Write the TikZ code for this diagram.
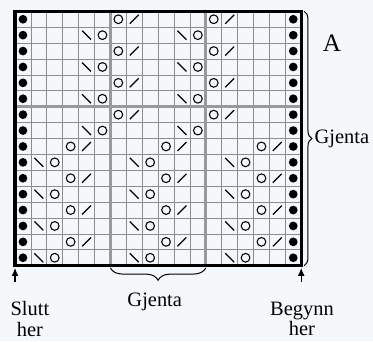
\documentclass[tikz,border=0pt]{standalone}
\usepackage{fontspec}
\setmainfont{Liberation Serif}
\usetikzlibrary{decorations.pathreplacing,positioning,arrows.meta}
\definecolor{papir}{RGB}{245,248,251}

\begin{document}
\begin{tikzpicture}[
  x=0.5cm, y=-0.5cm,
  every node/.style={inner sep=0pt, font=\fontsize{18.3}{18}\selectfont},
  pil/.style={-{Latex[length=7pt,width=6pt]}, line width=1pt},
  rute/.style={draw=black!45, line width=0.7pt},
  rapport/.style={draw=black!40, line width=2.4pt},
  ramme/.style={draw=black, line width=2.8pt},
  kant/.style={circle, fill=black, minimum size=7.8pt},
  kast/.style={circle, draw=black, line width=0.95pt, minimum size=7.8pt},
  strek/.style={draw=black, line width=1.1pt},
  klamme/.style={draw=black, line width=0.9pt, decorate},
  ]
  \fill[papir] (-0.943,-0.711) rectangle (22.516,20.736);
  \useasboundingbox (-0.943,-0.711) rectangle (22.516,20.736);
  % rutenett
  \foreach \i in {1,...,17} \draw[rute] (\i,0) -- (\i,16);
  \foreach \j in {1,...,15} \draw[rute] (0,\j) -- (18,\j);
  \draw[rapport] (6,0) -- (6,16) (12,0) -- (12,16) (0,6) -- (18,6);
  \draw[ramme] (0,0) rectangle (18,16);
  % kantmasker
  \foreach \r in {1,...,16} {
    \node[kant] (v\r) at (0.5,\r-0.5) {};
    \node[kant] (h\r) at (17.5,\r-0.5) {};
  }
  % oevre del
  \foreach \r in {1,3,5,7} \foreach \c in {7,13} {
    \node[kast] (k\r-\c) at (\c-0.5,\r-0.5) {};
    \draw[strek] (\c+0.22,\r-0.22) -- ++(0.56,-0.56);
  }
  \foreach \r in {2,4,6,8} \foreach \c in {6,12} {
    \draw[strek] (\c-1.78,\r-0.78) -- ++(0.56,0.56);
    \node[kast] (k\r-\c) at (\c-0.5,\r-0.5) {};
  }
  % nedre del
  \foreach \r in {9,11,13,15} \foreach \c in {4,10,16} {
    \node[kast] (k\r-\c) at (\c-0.5,\r-0.5) {};
    \draw[strek] (\c+0.22,\r-0.22) -- ++(0.56,-0.56);
  }
  \foreach \r in {10,12,14,16} \foreach \c in {3,9,15} {
    \draw[strek] (\c-1.78,\r-0.78) -- ++(0.56,0.56);
    \node[kast] (k\r-\c) at (\c-0.5,\r-0.5) {};
  }
  % klammer
  \coordinate (NE) at (18.18,0);
  \coordinate (SE) at (18.18,16);
  \draw[klamme, decoration={brace, amplitude=7pt}] (NE) -- (SE)
    node[midway, right=9pt] (gjenta1) {Gjenta};
  \coordinate (rapH) at (12,16.14);
  \coordinate (rapV) at (6,16.14);
  \draw[klamme, decoration={brace, amplitude=11pt}] (rapH) -- (rapV)
    node[midway, below=22pt, xshift=-3pt] (gjenta2) {Gjenta};
  \node[font=\fontsize{22.5}{24}\selectfont] (A) at (19.94,2.0) {A};
  % start og slutt
  \coordinate (SW) at (0,16.14);
  \coordinate (SO) at (18,16.14);
  \coordinate (sluttfot) at (0,17.04);
  \coordinate (startfot) at (18,17.04);
  \draw[pil] (sluttfot) -- (SW);
  \draw[pil] (startfot) -- (SO);
  \node[align=center, anchor=north] (slutt) at (0.94,18.25) {Slutt\\her};
  \node[align=center, anchor=north] (start) at (18.05,18.25) {Begynn\\her};
\end{tikzpicture}
\end{document}
